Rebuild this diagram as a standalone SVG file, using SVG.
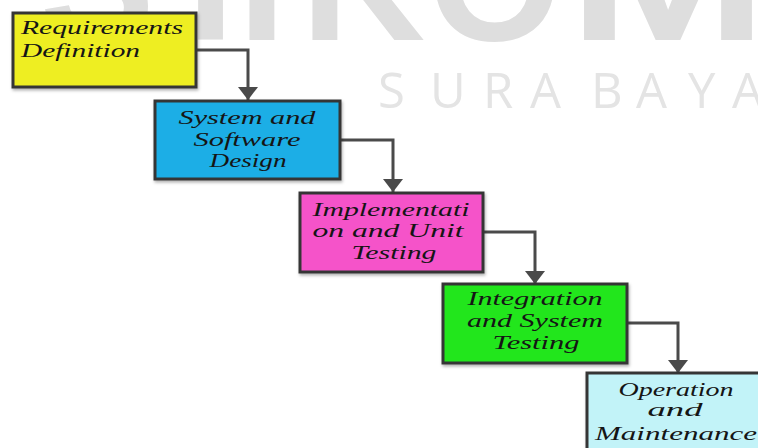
<svg xmlns="http://www.w3.org/2000/svg" width="758" height="448" viewBox="0 0 758 448">
<style>
.box{stroke:#363636;stroke-width:3}
.lbl{font-family:"Liberation Serif","Times New Roman",serif;font-style:italic;font-size:19px;fill:#151515}
.mid{text-anchor:middle}
.conn{fill:none;stroke:#4a4a4a;stroke-width:3}
.wm{font-family:"Liberation Sans",Arial,sans-serif;font-weight:bold;font-size:172px;fill:#dedede}
.wm2{font-family:"Open Sans","Liberation Sans",sans-serif;font-size:49px;fill:#e4e4e4}
</style>
<defs>
<marker id="arr" viewBox="0 0 13 20" refX="13" refY="10" markerWidth="13" markerHeight="20" markerUnits="userSpaceOnUse" orient="auto">
<path d="M0,0 L13,10 L0,20 z" fill="#4a4a4a"/>
</marker>
<filter id="sh" x="-10%" y="-10%" width="120%" height="130%">
<feDropShadow dx="1" dy="2" stdDeviation="1.5" flood-color="#000" flood-opacity="0.3"/>
</filter>
</defs>
<rect width="758" height="448" fill="#ffffff"/>
<g id="watermark">
<text class="wm" x="40 158 238 301 428" y="40">STIKO</text>
<text class="wm" x="568" y="40" textLength="200" lengthAdjust="spacingAndGlyphs">M</text>
<text class="wm2" x="378 430 483 530 591 636 688 732" y="108">SURABAYA</text>
</g>
<g id="connectors">
<path class="conn" d="M196,50 H248 V100" marker-end="url(#arr)"/>
<path class="conn" d="M340,140 H393 V192" marker-end="url(#arr)"/>
<path class="conn" d="M483,232 H535 V284" marker-end="url(#arr)"/>
<path class="conn" d="M627,323 H678 V373" marker-end="url(#arr)"/>
</g>
<g id="requirements">
<rect class="box" x="13" y="13" width="183" height="74" fill="#eeee22" filter="url(#sh)"/>
<text class="lbl" x="21" y="34" textLength="162" lengthAdjust="spacingAndGlyphs">Requirements</text>
<text class="lbl" x="21" y="57" textLength="119" lengthAdjust="spacingAndGlyphs">Definition</text>
</g>
<g id="design">
<rect class="box" x="155" y="101" width="185" height="78" fill="#1aaee6" filter="url(#sh)"/>
<text class="lbl mid" x="247" y="124" textLength="137" lengthAdjust="spacingAndGlyphs">System and</text>
<text class="lbl mid" x="247" y="146" textLength="107" lengthAdjust="spacingAndGlyphs">Software</text>
<text class="lbl mid" x="248" y="167" textLength="77" lengthAdjust="spacingAndGlyphs">Design</text>
</g>
<g id="implementation">
<rect class="box" x="300" y="193" width="183" height="79" fill="#f553c9" filter="url(#sh)"/>
<text class="lbl mid" x="391" y="216" textLength="157" lengthAdjust="spacingAndGlyphs">Implementati</text>
<text class="lbl mid" x="388" y="237" textLength="151" lengthAdjust="spacingAndGlyphs">on and Unit</text>
<text class="lbl mid" x="394" y="259" textLength="85" lengthAdjust="spacingAndGlyphs">Testing</text>
</g>
<g id="integration">
<rect class="box" x="443" y="284" width="184" height="79" fill="#22e61c" filter="url(#sh)"/>
<text class="lbl mid" x="535" y="305" textLength="135" lengthAdjust="spacingAndGlyphs">Integration</text>
<text class="lbl mid" x="535" y="327" textLength="136" lengthAdjust="spacingAndGlyphs">and System</text>
<text class="lbl mid" x="536" y="349" textLength="87" lengthAdjust="spacingAndGlyphs">Testing</text>
</g>
<g id="operation">
<rect class="box" x="587" y="373" width="185" height="90" fill="#c2f3f8" filter="url(#sh)"/>
<text class="lbl mid" x="676" y="396" textLength="115" lengthAdjust="spacingAndGlyphs">Operation</text>
<text class="lbl mid" x="675" y="416" textLength="55" lengthAdjust="spacingAndGlyphs">and</text>
<text class="lbl mid" x="676" y="440" textLength="162" lengthAdjust="spacingAndGlyphs">Maintenance</text>
</g>
</svg>
